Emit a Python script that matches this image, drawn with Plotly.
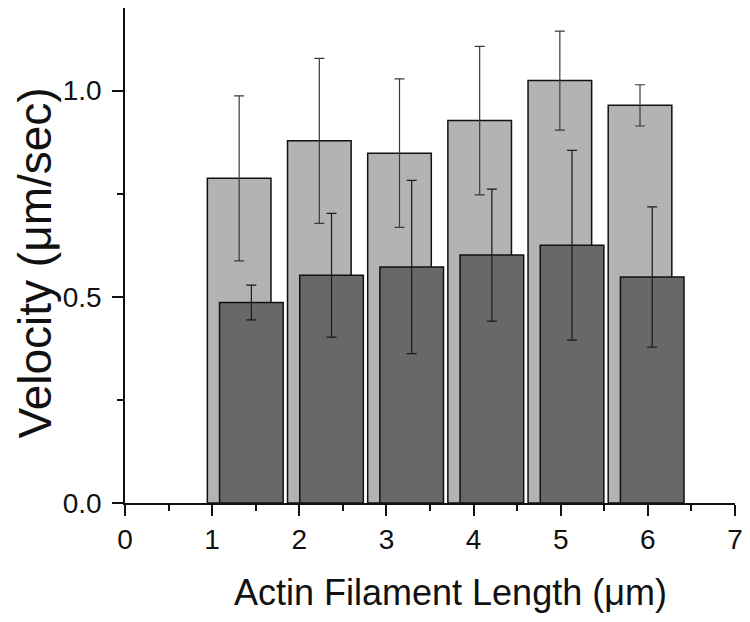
import plotly.graph_objects as go

# bar positions (um) and velocities
light_x = [1.31, 2.23, 3.15, 4.07, 4.99, 5.91]
light_y = [0.787, 0.878, 0.848, 0.927, 1.024, 0.964]
light_err = [0.20, 0.20, 0.18, 0.18, 0.12, 0.05]

dark_x = [1.45, 2.37, 3.29, 4.21, 5.13, 6.05]
dark_y = [0.486, 0.552, 0.572, 0.601, 0.625, 0.548]
dark_err = [0.042, 0.15, 0.21, 0.16, 0.23, 0.17]

x_ticks = [0, 1, 2, 3, 4, 5, 6, 7]
y_ticks = [0.0, 0.5, 1.0]

FONT = "Arial, 'Liberation Sans', sans-serif"
# page body has an 8px margin, so the figure is drawn a bit smaller
OFF = 8
W, H = 750 - OFF, 622 - OFF
L, R, T, B = 125 - OFF, 15, 0, 119

fig = go.Figure()
fig.add_trace(go.Bar(
    x=light_x, y=light_y, width=0.73,
    marker=dict(color="#b3b3b3", line=dict(color="#111111", width=1.5)),
    error_y=dict(type="data", array=light_err, color="#3a3a3a",
                 thickness=1.2, width=5),
    showlegend=False,
))
fig.add_trace(go.Bar(
    x=dark_x, y=dark_y, width=0.73,
    marker=dict(color="#686868", line=dict(color="#111111", width=1.5)),
    error_y=dict(type="data", array=dark_err, color="#1a1a1a",
                 thickness=1.2, width=5),
    showlegend=False,
))

pw = W - L - R
ph = H - T - B


def px(xp, yp):
    """page pixel -> paper coords"""
    return (xp - OFF - L) / pw, (H - B - (yp - OFF)) / ph


xt = px(450.5, 592)
yt = px(34, 263.5)

fig.update_layout(
    width=W, height=H,
    barmode="overlay",
    plot_bgcolor="white", paper_bgcolor="white",
    margin=dict(l=L, r=R, t=T, b=B, pad=0, autoexpand=False),
    font=dict(family=FONT, color="#111111"),
    xaxis=dict(
        range=[0, 7], tickvals=x_ticks, ticktext=[str(v) for v in x_ticks],
        showgrid=False, zeroline=False, automargin=False,
        showline=True, linecolor="#111111", linewidth=1.5,
        ticks="outside", ticklen=11, tickwidth=1.5, tickcolor="#111111",
        tickfont=dict(size=28, family=FONT, color="#111111"),
        minor=dict(dtick=0.5, ticks="outside", ticklen=6, tickwidth=1.5,
                   tickcolor="#111111", showgrid=False),
    ),
    yaxis=dict(
        range=[0, 1.2], tickvals=y_ticks, ticktext=["0.0", "0.5", "1.0"],
        showgrid=False, zeroline=False, automargin=False,
        showline=True, linecolor="#111111", linewidth=1.5,
        ticks="outside", ticklen=11, tickwidth=1.5, tickcolor="#111111",
        ticklabelstandoff=5,
        tickfont=dict(size=28, family=FONT, color="#111111"),
        minor=dict(dtick=0.25, ticks="outside", ticklen=6, tickwidth=1.5,
                   tickcolor="#111111", showgrid=False),
    ),
    annotations=[
        dict(text="Actin Filament Length (\u03bcm)", xref="paper", yref="paper",
             x=xt[0], y=xt[1],
             xanchor="center", yanchor="middle", showarrow=False,
             font=dict(size=36, family=FONT, color="#111111")),
        dict(text="Velocity (\u03bcm/sec)", xref="paper", yref="paper",
             x=yt[0], y=yt[1], textangle=-90,
             xanchor="center", yanchor="middle", showarrow=False,
             font=dict(size=46, family=FONT, color="#111111")),
    ],
)

fig.write_html("out.html")
